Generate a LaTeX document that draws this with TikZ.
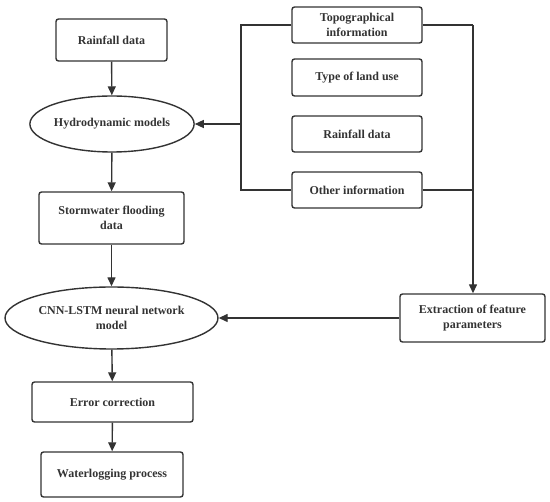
\documentclass[tikz,border=0pt]{standalone}
\usepackage{fontspec}
\setmainfont{Liberation Serif}
\usetikzlibrary{arrows.meta,shapes.geometric}
\begin{document}
\begin{tikzpicture}[x=1pt,y=-1pt,
  every node/.style={font=\fontsize{12}{14.5}\selectfont\bfseries, text=black!80, align=center, inner sep=0pt},
  box/.style={draw=black!80, line width=1.4pt, rounded corners=2.5pt, rectangle},
  oval/.style={draw=black!80, line width=1.4pt, ellipse},
  conn/.style={draw=black!80, line width=1.4pt},
  arr/.style={conn, -{Triangle[length=9pt,width=8pt]}}]
\useasboundingbox (0,0) rectangle (550,502);
% left column
\node[box, minimum width=111pt, minimum height=42pt] (rain) at (111.5,40) {Rainfall data};
\node[oval, minimum width=158pt, minimum height=56pt] (hydro) at (112,124) {Hydrodynamic models};
\node[box, minimum width=145pt, minimum height=52pt] (storm) at (111.5,218) {Stormwater flooding\\data};
\node[oval, minimum width=213pt, minimum height=62pt] (cnn) at (111.5,318) {CNN-LSTM neural network\\model};
\node[box, minimum width=161pt, minimum height=40pt] (err) at (112.5,402) {Error correction};
\node[box, minimum width=142pt, minimum height=45pt] (water) at (112,474.5) {Waterlogging process};
% right column
\node[box, minimum width=130pt, minimum height=36pt] (topo) at (357,25) {Topographical\\information};
\node[box, minimum width=130pt, minimum height=37pt] (land) at (357,77.5) {Type of land use};
\node[box, minimum width=130pt, minimum height=36pt] (rain2) at (357,134) {Rainfall data};
\node[box, minimum width=130pt, minimum height=36pt] (other) at (357,190) {Other information};
\node[box, minimum width=145pt, minimum height=48pt] (extr) at (472.5,318) {Extraction of feature\\parameters};
% coordinates
\coordinate (lb) at (241,124);
\coordinate (lt) at (241,25);
\coordinate (lo) at (241,190);
\coordinate (rt) at (473,25);
\coordinate (ro) at (473,190);
% connectors
\draw[arr] (rain) -- (hydro);
\draw[arr] (hydro) -- (storm);
\draw[arr] (storm) -- (cnn);
\draw[arr] (cnn) -- (err);
\draw[arr] (err) -- (water);
\draw[conn] (topo.west) -- (lt) -- (lo) -- (other.west);
\draw[arr] (lb) -- (hydro.east);
\draw[conn] (topo.east) -- (rt);
\draw[conn] (other.east) -- (ro);
\draw[arr] (rt) -- (extr.north -| rt);
\draw[arr] (extr.west) -- (cnn.east);
\end{tikzpicture}
\end{document}
